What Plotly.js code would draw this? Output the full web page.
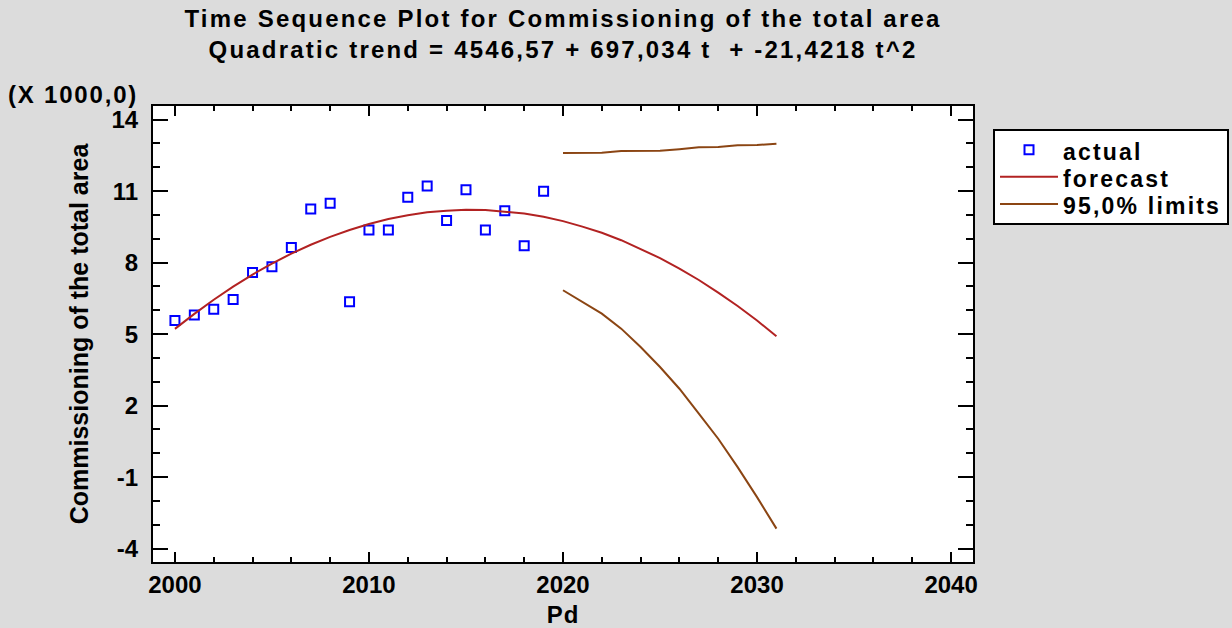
<!DOCTYPE html>
<html>
<head>
<meta charset="utf-8">
<script src="https://cdn.plot.ly/plotly-3.0.1.min.js"></script>
<style>
  html, body { margin: 0; padding: 0; background: #dcdcdc; }
  #chart { width: 1232px; height: 628px; }
  .gtitle { letter-spacing: 2.2px; }
  .legendtext { letter-spacing: 2.2px; font-size: 23px !important; transform: translateY(3px); }
  .annotation-text { letter-spacing: 1.8px; }
  .xtitle { letter-spacing: 1px; }
</style>
</head>
<body>
<div id="chart"></div>
<script>
// ---- data (values in thousands) ----
var actualYears = [2000, 2001, 2002, 2003, 2004, 2005, 2006, 2007, 2008, 2009,
                   2010, 2011, 2012, 2013, 2014, 2015, 2016, 2017, 2018, 2019];
var actualValues = [5.57, 5.80, 6.04, 6.45, 7.58, 7.83, 8.63, 10.25, 10.49, 6.36,
                    9.37, 9.37, 10.74, 11.21, 9.77, 11.06, 9.37, 10.18, 8.71, 10.99];

var forecastYears = [2000, 2001, 2002, 2003, 2004, 2005, 2006, 2007, 2008, 2009,
                     2010, 2011, 2012, 2013, 2014, 2015, 2016, 2017, 2018, 2019,
                     2020, 2021, 2022, 2023, 2024, 2025, 2026, 2027, 2028, 2029,
                     2030, 2031];
var forecastValues = [5.22, 5.85, 6.44, 6.99, 7.50, 7.96, 8.38, 8.75, 9.08, 9.37,
                      9.62, 9.83, 9.99, 10.11, 10.18, 10.22, 10.21, 10.15, 10.06, 9.92,
                      9.74, 9.51, 9.25, 8.94, 8.58, 8.19, 7.75, 7.27, 6.74, 6.18,
                      5.57, 4.91];

var limitYears = [2020, 2021, 2022, 2023, 2024, 2025, 2026, 2027, 2028, 2029, 2030, 2031];
var upperLimit = [12.60, 12.60, 12.61, 12.68, 12.68, 12.69, 12.76, 12.84, 12.85, 12.92, 12.93, 12.99];
var lowerLimit = [6.84, 6.36, 5.86, 5.23, 4.46, 3.62, 2.71, 1.66, 0.61, -0.58, -1.84, -3.16];

var yTickVals = [-4, -1, 2, 5, 8, 11, 14];
var yTickText = ['-4', '-1', '2', '5', '8', '11', '14'];
var xTickVals = [2000, 2010, 2020, 2030, 2040];
var xTickText = ['2000', '2010', '2020', '2030', '2040'];

var titleLine1 = 'Time Sequence Plot for Commissioning of the total area';
var titleLine2 = 'Quadratic trend = 4546,57 + 697,034 t \u00a0+ -21,4218 t^2';
var yTitle = 'Commissioning of the total area';
var xTitle = 'Pd';
var scaleNote = '(X 1000,0)';
var seriesNames = ['actual', 'forecast', '95,0% limits'];

// ---- styling ----
var FONT = 'Liberation Sans, Arial, sans-serif';
var limitColor = '#8b4513';

var traces = [
  {
    x: actualYears, y: actualValues, name: seriesNames[0],
    type: 'scatter', mode: 'markers',
    marker: { symbol: 'square-open', size: 9, color: '#0000ff', line: { width: 2, color: '#0000ff' } }
  },
  {
    x: forecastYears, y: forecastValues, name: seriesNames[1],
    type: 'scatter', mode: 'lines',
    line: { color: '#b22222', width: 2 }
  },
  {
    x: limitYears, y: upperLimit, name: seriesNames[2], legendgroup: 'lim',
    type: 'scatter', mode: 'lines',
    line: { color: limitColor, width: 2 }
  },
  {
    x: limitYears, y: lowerLimit, name: seriesNames[2], legendgroup: 'lim', showlegend: false,
    type: 'scatter', mode: 'lines',
    line: { color: limitColor, width: 2 }
  }
];

var layout = {
  width: 1232, height: 628,
  paper_bgcolor: '#dcdcdc',
  plot_bgcolor: '#ffffff',
  margin: { l: 153, r: 259, t: 106, b: 66, pad: 0, autoexpand: false },
  font: { family: FONT, color: '#000000', size: 24, weight: 'bold' },
  title: {
    text: titleLine1 + '<br>' + titleLine2,
    font: { family: FONT, size: 24, weight: 'bold', color: '#000' },
    x: 0.5, xref: 'paper', xanchor: 'center',
    y: 0.957, yref: 'container', yanchor: 'top'
  },
  xaxis: {
    range: [1998.87, 2041.13],
    tickmode: 'array', tickvals: xTickVals, ticktext: xTickText,
    ticks: 'inside', ticklen: 10, tickwidth: 2, tickcolor: '#000',
    minor: { dtick: 2, tick0: 2000, ticks: 'inside', ticklen: 5, tickwidth: 2, tickcolor: '#000', showgrid: false },
    showline: true, linecolor: '#000', linewidth: 2, mirror: 'ticks',
    showgrid: false, zeroline: false,
    ticklabelstandoff: 0,
    tickfont: { family: FONT, size: 24, weight: 'bold', color: '#000' },
    title: { text: xTitle, font: { family: FONT, size: 24, weight: 'bold', color: '#000' }, standoff: 12 },
    automargin: false
  },
  yaxis: {
    range: [-4.56, 14.57],
    tickmode: 'array', tickvals: yTickVals, ticktext: yTickText,
    ticks: 'inside', ticklen: 15, tickwidth: 2, tickcolor: '#000',
    minor: { dtick: 1, tick0: -4, ticks: 'inside', ticklen: 7, tickwidth: 2, tickcolor: '#000', showgrid: false },
    showline: true, linecolor: '#000', linewidth: 2, mirror: 'ticks',
    showgrid: false, zeroline: false,
    ticklabelstandoff: 8,
    tickfont: { family: FONT, size: 24, weight: 'bold', color: '#000' },
    title: { text: yTitle, font: { family: FONT, size: 25, weight: 'bold', color: '#000' }, standoff: 16 },
    automargin: false
  },
  legend: {
    x: 1.0244, y: 0.949, xanchor: 'left', yanchor: 'top',
    bgcolor: '#ffffff', bordercolor: '#000000', borderwidth: 2,
    font: { family: FONT, size: 18.5, weight: 'bold', color: '#000' },
    itemwidth: 58, tracegroupgap: 0
  },
  annotations: [
    {
      text: scaleNote, xref: 'paper', yref: 'paper',
      x: -0.0159, y: 1.025, xanchor: 'right', yanchor: 'middle',
      showarrow: false,
      font: { family: FONT, size: 24, weight: 'bold', color: '#000' }
    }
  ],
  showlegend: true
};

Plotly.newPlot('chart', traces, layout, { displayModeBar: false, staticPlot: true });
</script>
</body>
</html>
